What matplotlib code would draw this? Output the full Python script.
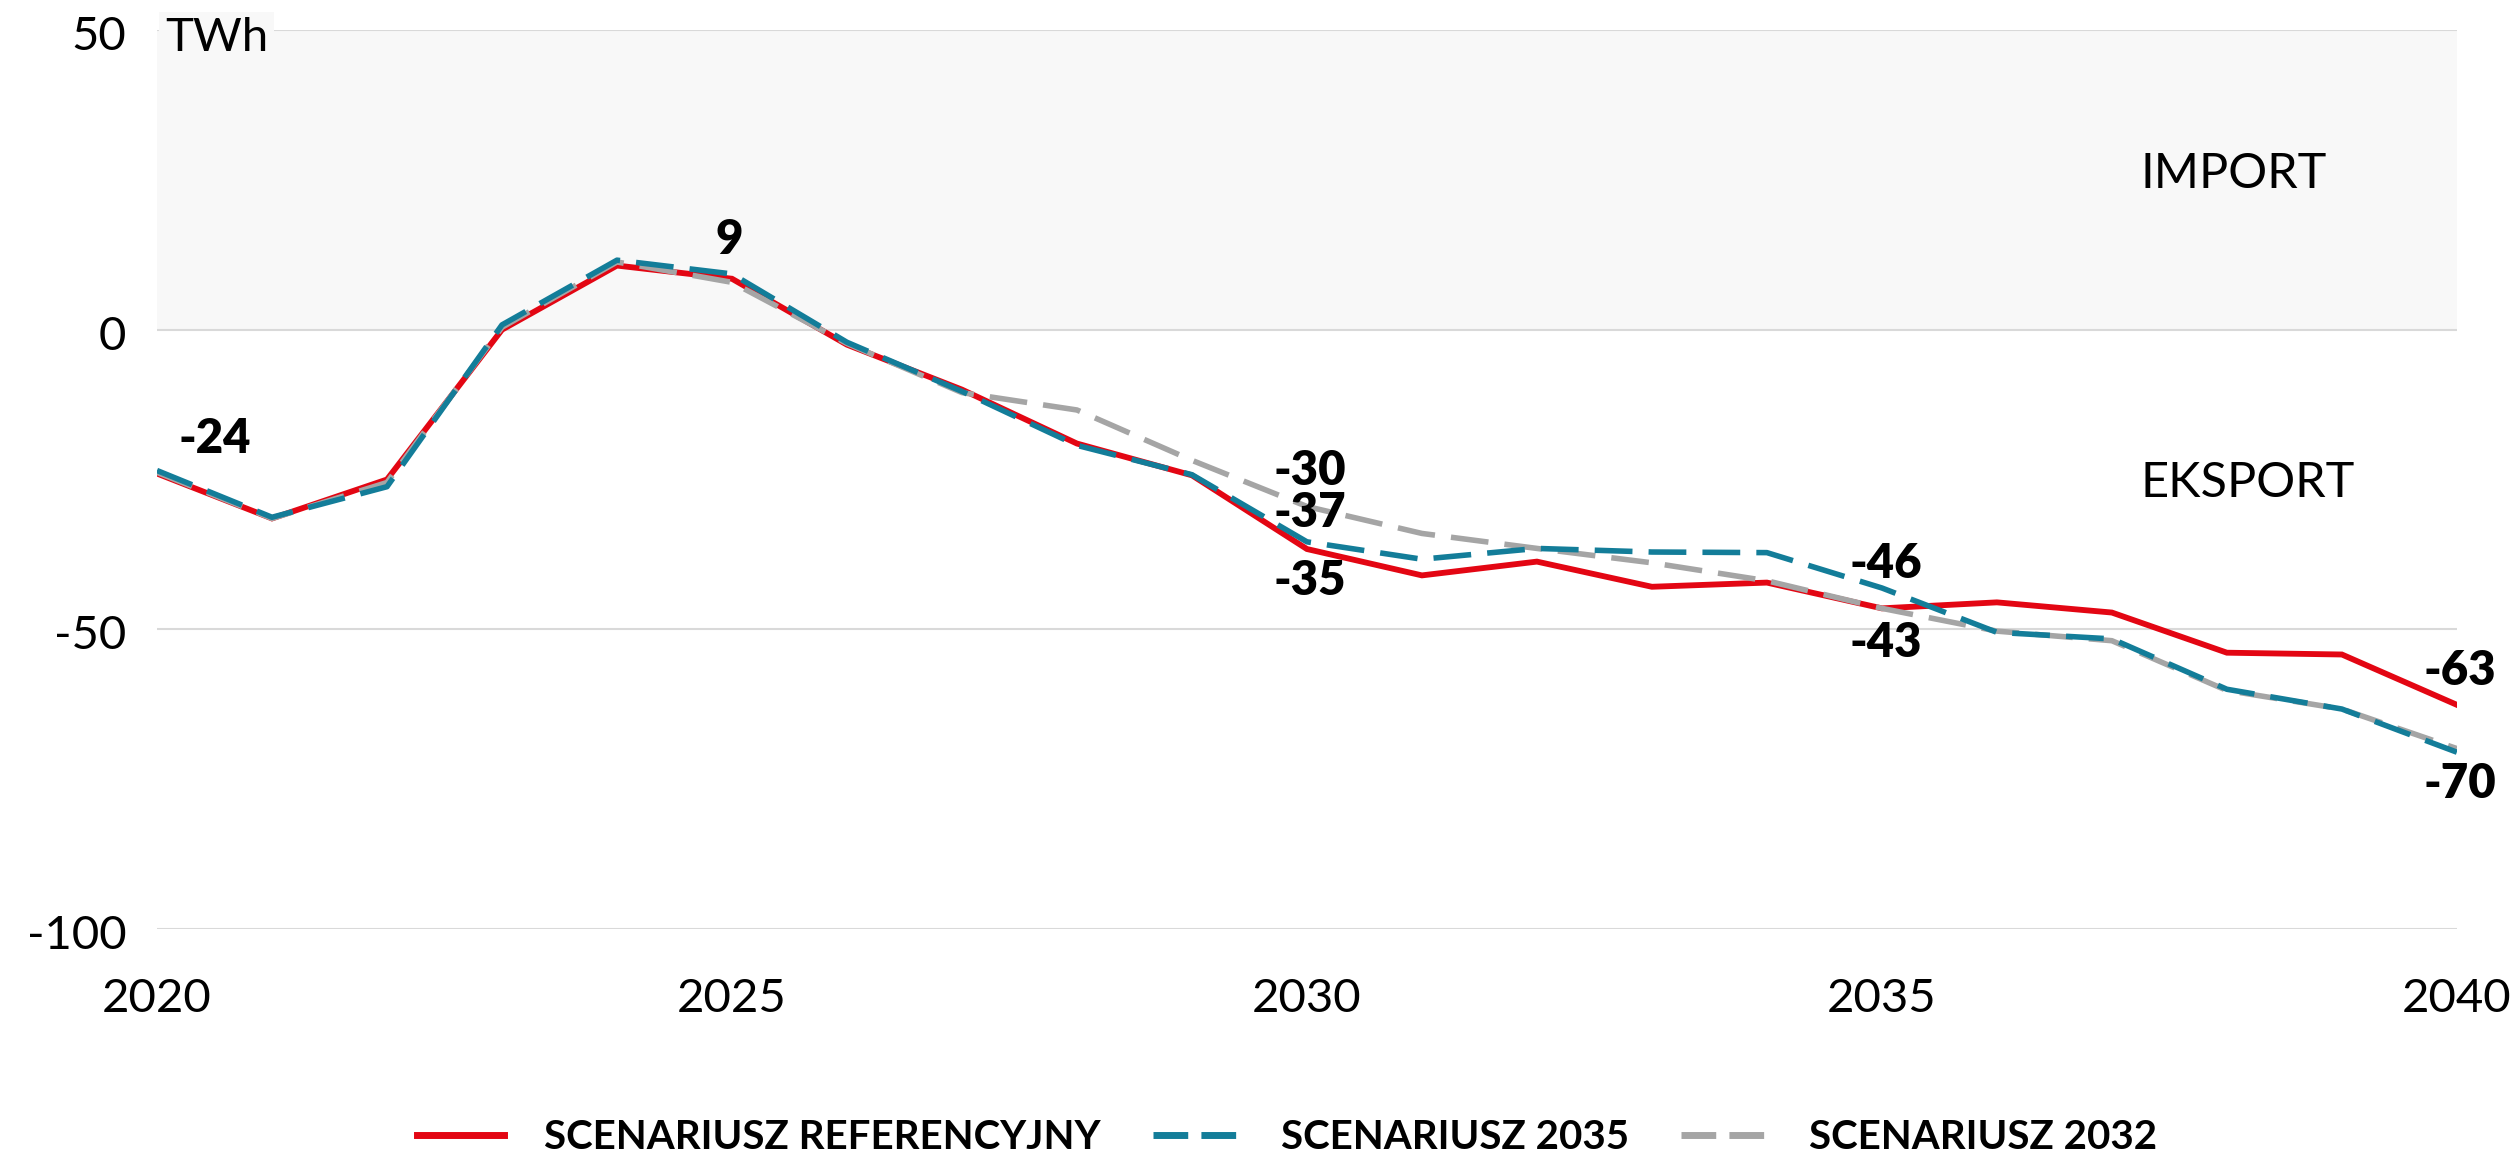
import numpy as np
import matplotlib
matplotlib.use('Agg')
import matplotlib.pyplot as plt
from matplotlib.lines import Line2D
from matplotlib.transforms import ScaledTranslation


# Years on the x axis
years = list(range(2020, 2041))

# Net balance [TWh] (negative = export)
ref_values = [-24, -31.5, -25, 0, 10.7, 8.5, -2.5, -10, -19, -24.3, -36.6,
              -41, -38.7, -42.9, -42.2, -46.5, -45.5, -47.2, -53.9, -54.2, -62.6]
s2035_values = [-23.5, -31.3, -26.2, 0.8, 11.6, 9.3, -2.1, -10.3, -19.3, -24.2, -35.4,
                -38.3, -36.5, -37.1, -37.2, -43.1, -50.5, -51.6, -60, -63.3, -70.5]
s2032_values = [-23.8, -31.5, -25.5, 0.4, 11.3, 7.9, -2.3, -10.5, -13.4, -21.8, -29.5,
                -34, -36.5, -38.9, -41.9, -46.5, -50.3, -51.9, -60.2, -63.3, -69.9]

series_names = ['SCENARIUSZ REFERENCYJNY', 'SCENARIUSZ 2035', 'SCENARIUSZ 2032']

# Axis ticks
x_ticks = [2020, 2025, 2030, 2035, 2040]
y_ticks = [-100, -50, 0, 50]
y_tick_labels = ['-100', '-50', '0', '50']

# Value labels: (text, series, year, x offset px, y offset px)
value_labels = [
    ('-24', 'ref', 2020, 58, 35),
    ('9', 'ref', 2025, -3, 39),
    ('-30', 's2032', 2030, 3, 35),
    ('-37', 'ref', 2030, 3, 36),
    ('-35', 's2035', 2030, 3, -39),
    ('-46', 'ref', 2035, 4, 44),
    ('-43', 's2035', 2035, 4, -55),
    ('-63', 'ref', 2040, 3, 34),
    ('-70', 's2035', 2040, 3, -32),
]

RED = '#E30613'
TEAL = '#137D99'
GREY = '#A5A5A5'
FONT = ['Lato', 'DejaVu Sans']

plt.rcParams['font.family'] = FONT
plt.rcParams['axes.unicode_minus'] = False


def draw_chart():
    fig = plt.figure(figsize=(25.16, 11.51), dpi=100)
    ax = fig.add_axes([0.0624, 0.1929, 0.9141, 0.781])

    # Import zone shading and grid
    ax.axhspan(0, 50, color='#F8F8F8', zorder=0, lw=0)
    for y in y_ticks:
        ax.axhline(y, color='#D9D9D9', lw=1.5, zorder=1)

    # Lines (red at the bottom, teal on top)
    dash = (6.8, 2.9)
    lines = {}
    lines['ref'], = ax.plot(years, ref_values, color=RED, lw=4.2, zorder=3,
                            solid_joinstyle='miter')
    lines['s2032'], = ax.plot(years, s2032_values, color=GREY, lw=4, zorder=4,
                              dashes=dash)
    lines['s2035'], = ax.plot(years, s2035_values, color=TEAL, lw=4, zorder=5,
                              dashes=dash)

    data = {'ref': ref_values, 's2035': s2035_values, 's2032': s2032_values}

    # Value labels
    for text, key, year, dx, dy in value_labels:
        val = data[key][years.index(year)]
        ax.annotate(text, xy=(year, val), xytext=(dx, dy), textcoords='offset pixels',
                    ha='center', va='center', fontsize=34, fontweight='heavy',
                    color='black', zorder=6)

    # Axis limits and ticks
    ax.set_xlim(2020, 2040)
    ax.set_ylim(-100, 50)
    ax.set_xticks(x_ticks)
    ax.set_xticklabels([str(x) for x in x_ticks])
    ax.set_yticks(y_ticks)
    ax.set_yticklabels(y_tick_labels)
    ax.tick_params(axis='y', length=0, pad=22, labelsize=34)
    ax.tick_params(axis='x', length=0, pad=35, labelsize=34)
    # y labels sit a little below their grid lines in the original
    shift = ScaledTranslation(0, -5 / 72, fig.dpi_scale_trans)
    for lab in ax.get_yticklabels():
        lab.set_va('center')
        lab.set_transform(lab.get_transform() + shift)
    for sp in ax.spines.values():
        sp.set_visible(False)

    # Unit and zone annotations
    ax.text(2020.07, 48.6, 'TWh', fontsize=34, ha='left', va='center',
            bbox=dict(facecolor='#F8F8F8', edgecolor='none', pad=4), zorder=6)
    ax.text(2037.25, 26, 'IMPORT', fontsize=35, ha='left', va='center')
    ax.text(2037.25, -25.5, 'EKSPORT', fontsize=35, ha='left', va='center')

    # Legend at the bottom
    handles = [
        Line2D([], [], color=RED, lw=5),
        Line2D([], [], color=TEAL, lw=5, dashes=(5.0, 1.9)),
        Line2D([], [], color=GREY, lw=5, dashes=(5.0, 1.9)),
    ]
    fig.legend(handles, series_names, loc='center', bbox_to_anchor=(0.5115, 0.012),
               ncol=3, frameon=False, prop={'family': FONT, 'weight': 'bold', 'size': 29},
               handlelength=2.16, handletextpad=1.0, columnspacing=1.3, borderpad=0)

    fig.savefig('out.png', dpi=100)


if __name__ == "__main__":
    draw_chart()
